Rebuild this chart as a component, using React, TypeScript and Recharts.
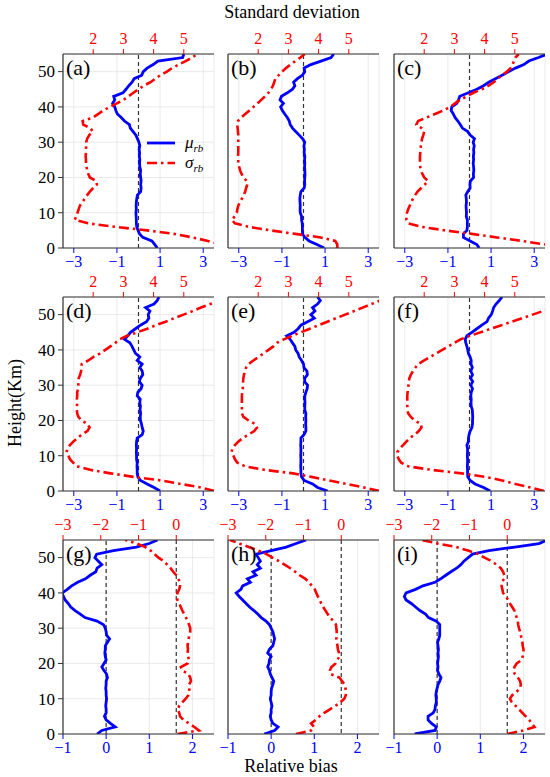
import React from 'react';
import { LineChart, Line, XAxis, YAxis, CartesianGrid, ReferenceLine, Legend } from 'recharts';

const HEIGHTS = [0,1,2,3,4,5,6,7,8,9,10,11,12,13,14,15,16,17,18,19,20,21,22,23,24,25,26,27,28,29,30,31,32,33,34,35,36,37,38,39,40,41,42,43,44,45,46,47,48,49,50,51,52,53,54,55];

const muA = [0.87,0.75,0.62,0.2,0.05,-0.02,-0.08,-0.1,-0.1,-0.11,-0.12,-0.1,-0.11,-0.1,-0.08,-0.05,0.1,0.12,0.1,0.12,0.1,0.08,0.1,0.06,0.05,0.06,0.04,0.05,0.03,0.06,0.02,-0.05,-0.12,-0.25,-0.38,-0.42,-0.65,-0.8,-0.98,-1.05,-1.1,-1.2,-1.1,-1.15,-0.72,-0.58,-0.45,-0.3,-0.2,0.15,0.22,0.4,0.68,0.9,2.05,2.1];
const sgA = [6.5,6.2,5.8,5.29,4.67,3.79,2.72,1.83,1.39,1.44,1.48,1.52,1.56,1.64,1.72,1.8,1.89,2.0,2.12,2.1,1.89,1.84,1.8,1.78,1.76,1.76,1.75,1.76,1.76,1.77,1.77,1.8,1.87,1.99,1.9,1.67,1.65,1.99,2.17,2.33,2.56,2.78,3.0,3.17,3.33,3.5,3.67,3.9,4.06,4.22,4.44,4.61,4.83,5.06,5.28,5.44];

const muB = [0.96,0.62,0.26,0.06,-0.05,-0.05,-0.05,-0.06,-0.09,-0.09,-0.15,-0.16,-0.15,-0.16,-0.17,-0.15,-0.12,0.03,0.06,0.05,0.06,0.07,0.06,0.05,0.06,0.05,0.06,0.03,0.04,0.02,0.06,-0.04,-0.2,-0.36,-0.51,-0.62,-0.66,-0.75,-0.87,-0.98,-1.06,-0.93,-1.09,-1.02,-0.75,-0.51,-0.4,-0.46,-0.28,-0.05,0.06,0.03,0.34,0.81,1.28,1.4];
const sgB = [4.62,4.62,4.55,4.07,3.23,2.4,1.68,1.23,1.12,1.23,1.29,1.31,1.34,1.4,1.46,1.52,1.57,1.6,1.64,1.62,1.51,1.45,1.4,1.37,1.34,1.34,1.33,1.34,1.34,1.34,1.34,1.34,1.34,1.33,1.32,1.3,1.33,1.44,1.57,1.71,1.84,1.98,2.1,2.23,2.34,2.42,2.49,2.53,2.57,2.68,2.79,2.92,3.07,3.23,3.4,3.54];

const muC = [0.45,0.34,0.03,-0.28,-0.28,-0.12,-0.1,-0.1,-0.1,-0.15,-0.14,-0.15,-0.16,-0.14,-0.15,-0.17,-0.08,0.03,0.02,0.04,0.19,0.18,0.2,0.19,0.17,0.19,0.18,0.2,0.19,0.22,0.17,0.23,0.03,-0.08,-0.33,-0.43,-0.54,-0.67,-0.75,-0.85,-0.82,-0.59,-0.51,-0.45,-0.05,0.34,0.65,0.89,1.2,1.51,1.82,2.13,2.52,2.75,3.2,3.6];
const sgC = [6.5,6.0,5.24,4.41,3.58,2.69,1.91,1.47,1.41,1.41,1.43,1.47,1.52,1.57,1.63,1.7,1.78,1.9,2.02,2.13,2.0,1.94,1.89,1.87,1.86,1.86,1.86,1.87,1.88,1.89,1.91,1.93,1.97,2.0,1.91,1.74,1.8,2.08,2.36,2.63,2.86,3.02,3.19,3.41,3.63,3.91,4.13,4.3,4.44,4.58,4.74,4.86,4.93,4.97,5.02,5.13];

const muD = [1.0,0.72,0.4,0.09,-0.03,-0.06,-0.06,-0.07,-0.06,-0.09,-0.09,-0.1,-0.09,-0.1,-0.09,-0.06,0.17,0.22,0.17,0.14,0.09,0.08,0.1,0.07,0.09,0.06,0.08,-0.06,-0.03,0.12,0.17,0.04,0.09,0.2,0.17,0.06,0.17,-0.06,0.06,-0.14,-0.22,-0.3,-0.4,-0.65,-0.5,-0.37,-0.14,0.09,0.37,0.48,0.45,0.53,0.33,0.72,0.87,0.95];
const sgD = [6.01,5.57,4.9,4.23,3.34,2.57,1.9,1.46,1.34,1.23,1.18,1.12,1.14,1.23,1.34,1.48,1.62,1.81,1.88,1.81,1.62,1.51,1.47,1.46,1.46,1.47,1.46,1.47,1.47,1.5,1.51,1.5,1.52,1.57,1.6,1.6,1.62,1.84,2.01,2.23,2.4,2.57,2.73,2.88,3.12,3.46,3.79,4.07,4.4,4.68,4.99,5.29,5.57,5.88,6.18,6.46];

const muE = [1.12,0.65,0.42,0.03,-0.09,-0.12,-0.12,-0.13,-0.12,-0.12,-0.13,-0.12,-0.12,-0.13,-0.12,-0.12,0.03,0.11,0.11,0.1,0.11,0.1,0.11,0.06,0.06,0.07,0.06,0.06,0.11,0.17,0.19,0.05,0.06,0.18,0.16,0.02,0.0,-0.09,-0.2,-0.25,-0.36,-0.4,-0.51,-0.62,-0.78,-0.44,-0.25,-0.12,0.19,0.5,0.34,0.53,0.42,0.65,0.78,0.65];
const sgE = [6.01,5.5,4.94,4.33,3.76,3.15,2.2,1.57,1.31,1.23,1.18,1.12,1.14,1.23,1.34,1.49,1.68,1.87,1.96,1.9,1.68,1.51,1.46,1.46,1.46,1.46,1.46,1.46,1.47,1.49,1.49,1.5,1.51,1.53,1.57,1.6,1.68,1.84,2.01,2.18,2.34,2.5,2.62,2.85,3.12,3.42,3.71,4.0,4.29,4.58,4.88,5.17,5.46,5.75,6.04,6.34];

const muF = [0.96,0.65,0.26,0.03,-0.08,-0.09,-0.09,-0.1,-0.09,-0.09,-0.1,-0.09,-0.09,-0.12,-0.05,-0.05,-0.02,0.03,0.11,0.14,0.14,0.15,0.14,0.13,0.08,0.07,0.08,0.06,0.08,0.14,0.06,0.15,0.05,0.14,0.06,0.13,0.07,0.08,0.03,-0.05,-0.08,-0.12,-0.17,-0.2,-0.12,0.11,0.34,0.57,0.81,0.88,1.01,1.07,1.12,1.23,1.38,1.51];
const sgF = [5.97,5.52,5.02,4.58,4.02,3.24,2.24,1.47,1.24,1.16,1.11,1.11,1.19,1.3,1.41,1.52,1.69,1.82,1.91,1.89,1.69,1.56,1.47,1.44,1.44,1.44,1.44,1.44,1.45,1.47,1.48,1.49,1.51,1.56,1.63,1.71,1.8,2.0,2.2,2.4,2.6,2.8,3.0,3.2,3.52,3.87,4.21,4.56,4.9,5.24,5.59,5.93,6.28,6.62,6.96,7.3];

const muG = [-0.21,-0.1,0.21,0.1,0.0,-0.04,0.0,0.0,-0.01,0.0,0.01,0.0,0.0,-0.01,0.0,0.0,0.03,0.01,-0.05,-0.1,-0.05,0.0,-0.02,-0.03,-0.02,-0.02,0.03,0.08,0.01,0.0,-0.02,-0.06,-0.21,-0.49,-0.6,-0.72,-0.82,-0.88,-0.95,-0.99,-1.02,-0.9,-0.8,-0.66,-0.48,-0.37,-0.24,-0.21,-0.1,-0.18,-0.26,-0.22,0.17,0.7,1.0,1.19];
const sgG = [0.03,0.6,0.48,0.34,0.19,0.1,0.08,0.03,0.08,0.16,0.25,0.32,0.34,0.35,0.34,0.39,0.37,0.32,0.16,0.12,0.3,0.34,0.31,0.3,0.31,0.3,0.31,0.33,0.34,0.37,0.37,0.34,0.3,0.26,0.21,0.16,0.12,0.08,0.03,0.02,0.03,0.08,0.1,0.1,0.05,0.0,-0.08,-0.15,-0.24,-0.33,-0.47,-0.58,-0.68,-0.82,-1.05,-1.35];

const muH = [-0.16,0.08,0.16,0.04,0.0,-0.02,0.0,0.0,0.02,0.0,-0.02,0.0,0.0,0.01,0.04,0.06,0.02,-0.02,-0.04,-0.08,-0.05,-0.04,0.0,-0.08,-0.04,0.04,0.06,0.08,0.06,0.04,0.0,-0.04,-0.12,-0.23,-0.31,-0.4,-0.5,-0.58,-0.66,-0.74,-0.81,-0.7,-0.66,-0.48,-0.55,-0.35,-0.42,-0.25,-0.32,-0.25,-0.3,-0.35,0.0,0.35,0.58,0.81];
const sgH = [-1.2,-0.8,-0.72,-0.8,-0.68,-0.58,-0.45,-0.3,-0.15,-0.02,0.08,0.12,0.13,0.11,0.09,0.02,-0.05,-0.28,-0.3,-0.26,-0.15,-0.1,-0.05,-0.06,-0.09,-0.1,-0.12,-0.13,-0.12,-0.12,-0.13,-0.14,-0.2,-0.3,-0.36,-0.42,-0.48,-0.53,-0.57,-0.62,-0.66,-0.7,-0.78,-0.85,-0.95,-1.1,-1.22,-1.35,-1.5,-1.65,-1.82,-1.98,-2.2,-2.45,-2.7,-2.95];

const muI = [-0.52,-0.05,-0.02,-0.13,-0.21,-0.21,-0.09,-0.05,-0.04,-0.02,-0.02,-0.03,-0.02,0.0,0.02,0.06,0.09,0.04,0.01,0.02,0.01,0.02,0.03,0.02,0.03,0.02,0.01,0.04,0.06,0.06,0.06,0.06,-0.02,-0.2,-0.27,-0.4,-0.5,-0.6,-0.72,-0.76,-0.72,-0.5,-0.33,-0.05,0.08,0.2,0.32,0.45,0.55,0.62,0.72,0.82,1.2,1.8,2.36,2.55];
const sgI = [0.0,0.42,0.72,0.65,0.58,0.49,0.4,0.31,0.22,0.12,0.07,0.13,0.25,0.34,0.36,0.34,0.28,0.2,0.16,0.19,0.25,0.38,0.41,0.43,0.43,0.41,0.4,0.38,0.36,0.34,0.31,0.29,0.28,0.25,0.22,0.19,0.13,0.07,0.03,-0.04,-0.11,-0.13,-0.15,-0.15,-0.08,-0.08,-0.11,-0.17,-0.28,-0.42,-0.6,-0.77,-1.04,-1.35,-1.84,-2.28];

const PANEL_LABELS = ['(a)','(b)','(c)','(d)','(e)','(f)','(g)','(h)','(i)'];
const MU_SERIES = [muA, muB, muC, muD, muE, muF, muG, muH, muI];
const SG_SERIES = [sgA, sgB, sgC, sgD, sgE, sgF, sgG, sgH, sgI];

const Y_TICKS = [0, 10, 20, 30, 40, 50];
const Y_DOMAIN = [0, 55];
const BIAS_TICKS_UPPER = [-3, -1, 1, 3];
const BIAS_DOMAIN_UPPER = [-3.5, 3.5];
const STD_TICKS_UPPER = [2, 3, 4, 5];
const STD_DOMAIN_UPPER = [1, 6];
const BIAS_TICKS_LOWER = [-1, 0, 1, 2];
const BIAS_DOMAIN_LOWER = [-1, 2.5];
const STD_TICKS_LOWER = [-3, -2, -1, 0];
const STD_DOMAIN_LOWER = [-3, 1];

const BLUE = '#0000ff';
const RED = '#ff0000';
const FONT = 'Liberation Serif, serif';
const TICK_FS = 16;

const COL_LEFT = [63, 228, 394];
const ROW_TOP = [54, 297, 540];
const PW = 151;
const PH = 194;
const YW = 40;
const TOPH = 30;
const BOTH = 30;
const RM = 12;

const fmt = (v: number) => String(v).replace('-', '\u2212');

function BottomTick(props: any) {
  const { x, y, payload } = props;
  return (
    <text x={x} y={y} dy="0.68em" textAnchor="middle" fill={BLUE} fontSize={TICK_FS} fontFamily={FONT} style={{ fontFamily: FONT }}>
      {fmt(payload.value)}
    </text>
  );
}

function TopTick(props: any) {
  const { x, y, payload } = props;
  return (
    <text x={x} y={y} textAnchor="middle" fill={RED} fontSize={TICK_FS} fontFamily={FONT} style={{ fontFamily: FONT }}>
      {fmt(payload.value)}
    </text>
  );
}

function LeftTick(props: any) {
  const { x, y, payload } = props;
  return (
    <text x={x} y={y} dy="0.34em" textAnchor="end" fill="#000" fontSize={TICK_FS + 1} fontFamily={FONT} style={{ fontFamily: FONT }}>
      {fmt(payload.value)}
    </text>
  );
}

function LegendBox() {
  return (
    <svg width={80} height={42} style={{ overflow: 'visible', display: 'block' }}>
      <line x1={2} y1={10} x2={30} y2={10} stroke={BLUE} strokeWidth={2.8} />
      <text x={40} y={15} fontFamily={FONT} fontStyle="italic" fontSize={17} fill="#000">
        μ<tspan fontSize={11} dy={4}>rb</tspan>
      </text>
      <line x1={2} y1={30} x2={30} y2={30} stroke={RED} strokeWidth={2.6} strokeDasharray="10 4 2.5 4" />
      <text x={40} y={35} fontFamily={FONT} fontStyle="italic" fontSize={17} fill="#000">
        σ<tspan fontSize={11} dy={4}>rb</tspan>
      </text>
    </svg>
  );
}

function Panel({ idx }: { idx: number }) {
  const row = Math.floor(idx / 3);
  const col = idx % 3;
  const lower = row === 2;
  const L = COL_LEFT[col];
  const T = ROW_TOP[row];
  const mu = MU_SERIES[idx];
  const sg = SG_SERIES[idx];
  const data = HEIGHTS.map((h, i) => ({ h, mu: mu[i], sg: sg[i] }));
  return (
    <div style={{ position: 'absolute', left: L - YW, top: T - TOPH }}>
      <LineChart
        width={YW + PW + RM}
        height={PH + TOPH + BOTH}
        data={data}
        layout="vertical"
        margin={{ top: 0, right: RM, bottom: 0, left: 0 }}
        style={{ fontFamily: FONT }}
      >
        <CartesianGrid xAxisId="bottom" stroke="#e4e4e4" strokeWidth={0.8} />
        <XAxis
          xAxisId="bottom"
          type="number"
          orientation="bottom"
          domain={lower ? BIAS_DOMAIN_LOWER : BIAS_DOMAIN_UPPER}
          ticks={lower ? BIAS_TICKS_LOWER : BIAS_TICKS_UPPER}
          allowDataOverflow
          height={BOTH}
          tickSize={5}
          tickMargin={3}
          tick={<BottomTick />}
          tickLine={{ stroke: BLUE }}
          axisLine={{ stroke: '#333', strokeWidth: 1.2 }}
          interval={0}
        />
        <XAxis
          xAxisId="top"
          type="number"
          orientation="top"
          domain={lower ? STD_DOMAIN_LOWER : STD_DOMAIN_UPPER}
          ticks={lower ? STD_TICKS_LOWER : STD_TICKS_UPPER}
          allowDataOverflow
          height={TOPH}
          tickSize={5}
          tickMargin={5}
          tick={<TopTick />}
          tickLine={{ stroke: RED }}
          axisLine={{ stroke: '#333', strokeWidth: 1.2 }}
          interval={0}
        />
        <YAxis
          type="number"
          dataKey="h"
          domain={Y_DOMAIN}
          ticks={Y_TICKS}
          reversed
          allowDataOverflow
          width={YW}
          tickSize={5}
          tickMargin={3}
          tick={col === 0 ? <LeftTick /> : false}
          tickLine={{ stroke: '#333' }}
          axisLine={{ stroke: '#333', strokeWidth: 1.2 }}
          interval={0}
        />
        <YAxis
          yAxisId="right"
          orientation="right"
          type="number"
          domain={Y_DOMAIN}
          reversed
          width={0}
          tick={false}
          tickLine={false}
          axisLine={{ stroke: '#333', strokeWidth: 1.2 }}
        />
        <ReferenceLine xAxisId="bottom" x={0} stroke="#333" strokeWidth={1.2} strokeDasharray="4 3" />
        {lower && (
          <ReferenceLine xAxisId="top" x={0} stroke="#333" strokeWidth={1.2} strokeDasharray="4 3" />
        )}
        <Line
          xAxisId="bottom"
          dataKey="mu"
          type="linear"
          stroke={BLUE}
          strokeWidth={2.8}
          dot={false}
          activeDot={false}
          isAnimationActive={false}
        />
        <Line
          xAxisId="top"
          dataKey="sg"
          type="linear"
          stroke={RED}
          strokeWidth={2.6}
          strokeDasharray="10 4 2.5 4"
          dot={false}
          activeDot={false}
          isAnimationActive={false}
        />
        {idx === 0 && (
          <Legend
            layout="horizontal"
            verticalAlign="middle"
            align="center"
            content={() => <LegendBox />}
            wrapperStyle={{ position: 'absolute', left: 122, top: 109, width: 80, height: 42 }}
          />
        )}
      </LineChart>
      <div
        style={{
          position: 'absolute',
          left: YW + 3,
          top: TOPH + 3,
          fontFamily: FONT,
          fontSize: 22,
          lineHeight: 1,
          color: '#000',
        }}
      >
        {PANEL_LABELS[idx]}
      </div>
    </div>
  );
}

export default function App() {
  return (
    <div
      style={{
        position: 'absolute',
        left: 0,
        top: 0,
        width: 550,
        height: 777,
        background: '#fff',
        fontFamily: FONT,
        overflow: 'hidden',
      }}
    >
      {PANEL_LABELS.map((_, i) => (
        <Panel key={i} idx={i} />
      ))}
      <div
        style={{
          position: 'absolute',
          left: 292,
          top: 3,
          transform: 'translateX(-50%)',
          fontSize: 18,
          lineHeight: 1,
          whiteSpace: 'nowrap',
        }}
      >
        Standard deviation
      </div>
      <div
        style={{
          position: 'absolute',
          left: 291,
          top: 757,
          transform: 'translateX(-50%)',
          fontSize: 18,
          lineHeight: 1,
          whiteSpace: 'nowrap',
        }}
      >
        Relative bias
      </div>
      <div
        style={{
          position: 'absolute',
          left: 15,
          top: 403,
          transform: 'translate(-50%, -50%) rotate(-90deg)',
          fontSize: 18,
          lineHeight: 1,
          whiteSpace: 'nowrap',
        }}
      >
        Height(Km)
      </div>
    </div>
  );
}
